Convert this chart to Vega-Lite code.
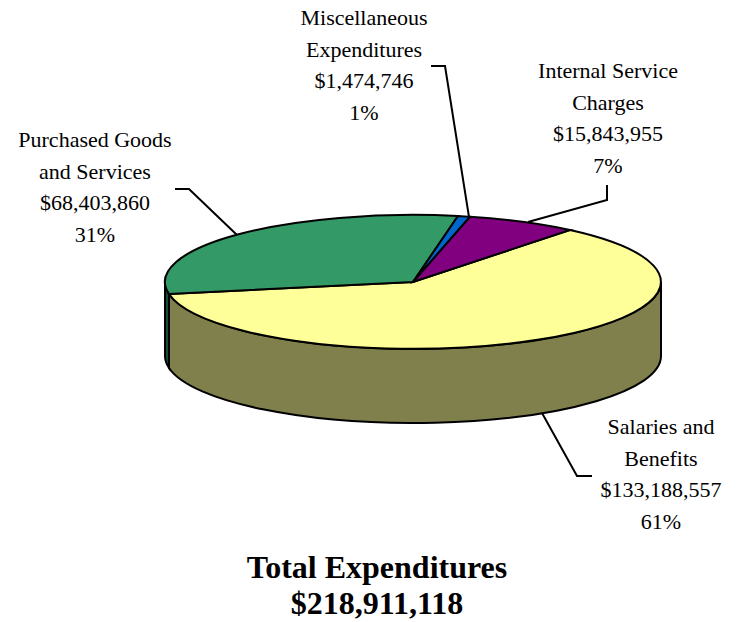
{
  "$schema": "https://vega.github.io/schema/vega-lite/v6.json",
  "width": 738,
  "height": 622,
  "padding": 0,
  "autosize": "none",
  "background": "white",
  "view": {"stroke": null},
  "title": {
    "text": ["Total Expenditures", "$218,911,118"],
    "orient": "bottom",
    "anchor": "middle",
    "font": "Liberation Serif",
    "fontSize": 32,
    "fontWeight": "bold",
    "color": "black",
    "lineHeight": 36,
    "dx": 8,
    "offset": -69
  },
  "data": {
    "values": [
      {"category": "Salaries and Benefits", "amount": 133188557, "percent": 61, "label": "Salaries and\nBenefits\n$133,188,557\n61%"},
      {"category": "Purchased Goods and Services", "amount": 68403860, "percent": 31, "label": "Purchased Goods\nand Services\n$68,403,860\n31%"},
      {"category": "Miscellaneous Expenditures", "amount": 1474746, "percent": 1, "label": "Miscellaneous\nExpenditures\n$1,474,746\n1%"},
      {"category": "Internal Service Charges", "amount": 15843955, "percent": 7, "label": "Internal Service\nCharges\n$15,843,955\n7%"}
    ]
  },
  "resolve": {"scale": {"shape": "independent", "fill": "independent"}},
  "layer": [
    {
      "transform": [{"filter": "datum.percent > 30"}],
      "mark": {"type": "point", "filled": true, "stroke": "black", "strokeWidth": 2, "opacity": 1},
      "encoding": {
        "x": {"value": 413},
        "y": {"value": 282},
        "size": {"value": 4},
        "fill": {"field": "category", "type": "nominal", "legend": null, "scale": {"domain": ["Salaries and Benefits", "Purchased Goods and Services"], "range": ["#80804D", "#1A4D33"]}},
        "shape": {"field": "category", "type": "nominal", "legend": null, "scale": {"domain": ["Salaries and Benefits", "Purchased Goods and Services"], "range": ["M-244,12 L-244,86 A248,67 0 0 0 248,74 L248,0 A248,67 0 0 1 -244,12 Z", "M-248,0 L-248,74 A248,67 0 0 0 -244,86 L-244,12 A248,67 0 0 1 -248,0 Z"]}}
      }
    },
    {
      "mark": {"type": "point", "filled": true, "stroke": "black", "strokeWidth": 2, "opacity": 1},
      "encoding": {
        "x": {"value": 413},
        "y": {"value": 282},
        "size": {"value": 4},
        "fill": {"field": "category", "type": "nominal", "legend": null, "scale": {"domain": ["Salaries and Benefits", "Purchased Goods and Services", "Miscellaneous Expenditures", "Internal Service Charges"], "range": ["#FFFF99", "#339966", "#0066CC", "#800080"]}},
        "shape": {"field": "category", "type": "nominal", "legend": null, "scale": {"domain": ["Salaries and Benefits", "Purchased Goods and Services", "Miscellaneous Expenditures", "Internal Service Charges"], "range": ["M0,0 L157,-52 A248,67 0 1 1 -244,12 Z", "M0,0 L-244,12 A248,67 0 0 1 45,-66 Z", "M0,0 L45,-66 A248,67 0 0 1 57,-65.2 Z", "M0,0 L57,-65.2 A248,67 0 0 1 157,-52 Z"]}}
      }
    },
    {
      "mark": {"type": "point", "filled": false, "fill": "transparent", "stroke": "black", "strokeWidth": 2, "opacity": 1},
      "encoding": {
        "x": {"value": 413},
        "y": {"value": 282},
        "size": {"value": 4},
        "shape": {"field": "category", "type": "nominal", "legend": null, "scale": {"domain": ["Salaries and Benefits", "Purchased Goods and Services", "Miscellaneous Expenditures", "Internal Service Charges"], "range": ["M129,131 L164,194 L179,194", "M-238,-93 L-224,-93 L-176,-47", "M18,-216 L32,-216 L56,-65", "M194,-97 L194,-82 L115,-60"]}}
      }
    },
    {
      "transform": [{"filter": "datum.percent == 61"}],
      "mark": {"type": "text", "font": "Liberation Serif", "fontSize": 22, "lineBreak": "\n", "lineHeight": 31.5, "align": "center", "baseline": "middle", "color": "black"},
      "encoding": {"text": {"field": "label", "type": "nominal"}, "x": {"value": 661}, "y": {"value": 427}}
    },
    {
      "transform": [{"filter": "datum.percent == 31"}],
      "mark": {"type": "text", "font": "Liberation Serif", "fontSize": 22, "lineBreak": "\n", "lineHeight": 31.5, "align": "center", "baseline": "middle", "color": "black"},
      "encoding": {"text": {"field": "label", "type": "nominal"}, "x": {"value": 95}, "y": {"value": 140}}
    },
    {
      "transform": [{"filter": "datum.percent == 1"}],
      "mark": {"type": "text", "font": "Liberation Serif", "fontSize": 22, "lineBreak": "\n", "lineHeight": 31.5, "align": "center", "baseline": "middle", "color": "black"},
      "encoding": {"text": {"field": "label", "type": "nominal"}, "x": {"value": 364}, "y": {"value": 18}}
    },
    {
      "transform": [{"filter": "datum.percent == 7"}],
      "mark": {"type": "text", "font": "Liberation Serif", "fontSize": 22, "lineBreak": "\n", "lineHeight": 31.5, "align": "center", "baseline": "middle", "color": "black"},
      "encoding": {"text": {"field": "label", "type": "nominal"}, "x": {"value": 608}, "y": {"value": 71}}
    }
  ]
}
